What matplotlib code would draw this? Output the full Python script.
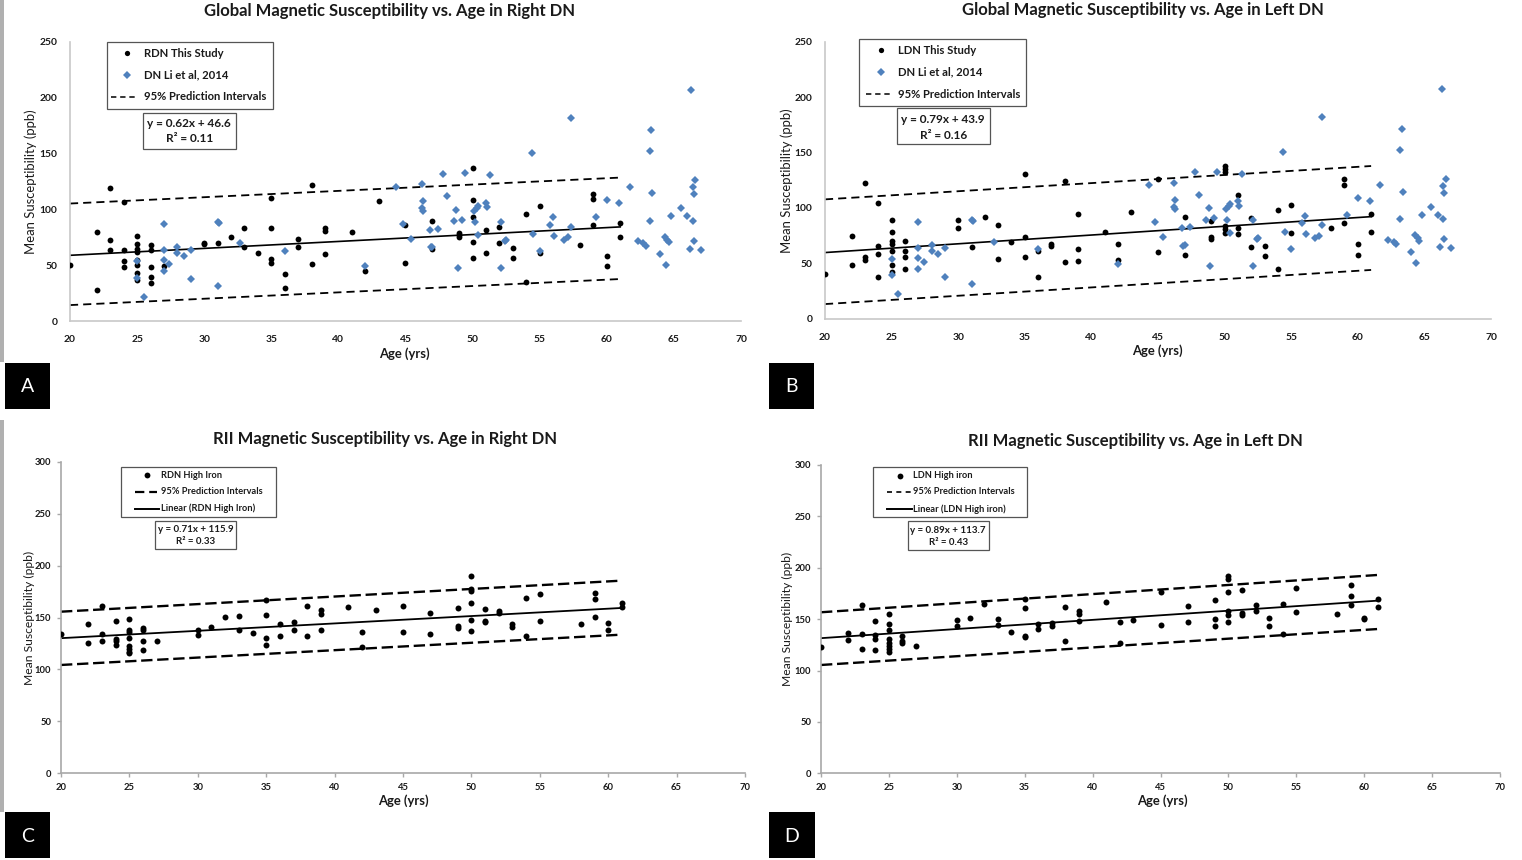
import matplotlib
matplotlib.use('Agg')
import matplotlib.pyplot as plt
from matplotlib.patches import Rectangle

plt.rcParams['font.family'] = ['Lato', 'DejaVu Sans']

# ---------------- DATA ----------------
# Li et al, 2014 reference data (shared by panels A and B)
li_age = [25, 25, 25.5, 27, 27, 27, 27, 27.4, 28, 28, 28.5, 29, 29, 31, 31.1, 31, 32.7, 36, 42,
          44.3, 44.8, 45.4, 46.2, 46.3, 46.2, 46.3, 46.8, 46.9, 47.0, 47.4, 47.8, 48.1, 48.6, 48.8,
          49.2, 48.9, 49.4, 50.1, 50.3, 50.4, 50.2, 50.4, 51.0, 51.1, 51.3, 52.1, 52.1, 52.4, 52.5,
          54.4, 54.5, 55.0, 55.8, 56.0, 56.1, 56.8, 57.1, 57.3, 57.3, 59.2, 60.0, 60.9, 61.7,
          62.3, 62.7, 62.9, 63.2, 63.3, 63.4, 63.2, 64.0, 64.3, 64.5, 64.6, 64.4, 64.8, 65.5,
          66.0, 66.4, 66.3, 66.6, 66.4, 66.5, 66.5, 66.2, 67.0]
li_sus = [54, 39, 22, 87, 64, 55, 45, 51, 66.6, 61, 58, 64, 38, 89, 88, 31.5, 69.6, 63, 49,
          120.5, 87, 74, 122.5, 107.4, 101, 99, 82, 66, 66.5, 82.4, 132, 112, 89.5, 99.6,
          91, 48, 132.4, 99, 101.4, 103.5, 89, 77, 106, 102, 131, 89, 48, 71.6, 73,
          150.5, 78.5, 63, 86, 93, 76.4, 73, 75, 181.7, 84.5, 93.6, 108.6, 106, 120.5,
          71.4, 69.6, 67, 152, 171, 114.5, 90, 60, 75.6, 73, 70.5, 50, 94, 101,
          94, 90, 207, 126.4, 120, 113.6, 72, 64.5, 63.4]

# Panel A: RDN This Study
rdn_age = [20, 22, 22, 23, 23, 23, 24, 24, 24, 24, 25, 25, 25, 25, 25, 25, 25, 25,
           26, 26, 26, 26, 26, 27, 30, 30, 31, 32, 33, 33, 34, 35, 35, 35, 35, 36, 36,
           37, 37, 38, 38, 39, 39, 39, 41, 42, 43,
           45, 45, 47, 47, 49, 49, 49, 50, 50, 50, 50, 50, 51, 51, 52, 52, 53, 53, 54, 54,
           55, 55, 58, 59, 59, 59, 60, 60, 61, 61]
rdn_sus = [50, 79.7, 28, 119, 73, 64, 107, 64, 54, 48.5, 76, 69, 65, 62, 55, 50, 43, 37,
           68, 64, 48.5, 40, 34, 49, 70, 69, 70, 75, 83.5, 66, 61, 110.6, 83.5, 56, 52, 42, 30,
           74, 66.5, 122, 51, 83.5, 80.5, 60, 79.7, 45, 108,
           86, 52, 89.5, 64.5, 79, 77, 75, 137, 108.6, 93, 71, 56.5, 82, 60.7, 84.5, 70, 65.7, 57,
           96, 35, 103, 61, 68, 113.6, 109.5, 85.7, 58.5, 49, 87.5, 75.6]
fit_a = [20, 61]
trend_a = [59.0, 84.4]
upper_a = [105.3, 128.5]
lower_a = [14.5, 37.8]

# Panel B: LDN This Study
ldn_age = [20, 22, 22, 23, 23, 23, 24, 24, 24, 24, 25, 25, 25, 25, 25, 25, 25,
           26, 26, 26, 26, 30, 30, 31, 32, 33, 33, 34, 35, 35, 35, 36, 36, 37, 37,
           38, 38, 39, 39, 39, 41, 42, 42, 43,
           45, 45, 47, 47, 49, 49, 49, 50, 50, 50, 50, 50, 50, 51, 51, 51, 52, 52, 53, 53,
           54, 54, 55, 55, 58, 59, 59, 59, 60, 60, 61, 61]
ldn_sus = [40.6, 75, 48.4, 122.7, 56, 53, 104, 66, 58, 38, 88.7, 78.5, 70, 67.7, 61, 48.4, 42,
           70, 61, 55.7, 45, 88.7, 82, 65, 91.5, 85, 54, 69.5, 130.6, 73.4, 56, 61.4, 37.3, 67.4, 65.6,
           124.5, 51, 94.8, 63, 52.3, 78, 67.7, 53, 96.6,
           126, 60, 91.5, 57.8, 88, 73.4, 71.6, 138, 135, 132, 84, 81, 77.6, 112, 82, 76.4, 91, 64.4, 66, 56.6,
           98, 44.5, 103, 77, 82, 125.8, 120.6, 86, 67, 57.8, 94.8, 78]
fit_b = [20, 61]
trend_b = [59.7, 92.1]
upper_b = [107.7, 137.8]
lower_b = [13.2, 44.0]

# Panel C: RDN High Iron
rhi_age = [20, 22, 22, 23, 23, 23, 24, 24, 24, 24, 25, 25, 25, 25, 25, 25, 25, 25,
           26, 26, 26, 26, 27, 30, 30, 31, 32, 33, 33, 34, 35, 35, 35, 35, 36, 36, 37, 37,
           38, 38, 39, 39, 39, 41, 42, 42, 43,
           45, 45, 47, 47, 49, 49, 49, 50, 50, 50, 50, 50, 50, 51, 51, 51, 52, 52, 53, 53,
           54, 54, 55, 55, 58, 59, 59, 59, 60, 60, 61, 61]
rhi_sus = [134.4, 144, 125.8, 160.7, 133.8, 127.7, 147, 129.6, 127.4, 123.5, 148.2, 138, 136, 130.6,
           122.5, 119.7, 117, 115.5, 140.2, 137.6, 127, 118.4, 127.7, 137.6, 133, 140.8, 150.8,
           151.4, 137.6, 135.4, 166.5, 152, 130, 123.8, 144, 131.9, 145.7, 137.6, 161, 132.5,
           156.9, 153, 138.3, 160.4, 136.3, 122, 156.9,
           160.7, 135.7, 154.6, 133.8, 159.5, 141.8, 140.2, 189.6, 177.4, 175.8, 164, 147.3, 137,
           158.2, 147, 145.3, 156.6, 154, 143.7, 141.2, 168.4, 131.9, 172.6, 147, 143.4,
           173.2, 167.5, 150.5, 145, 138.3, 164, 160.4]
fit_c = [20, 61]
trend_c = [130.1, 159.2]
upper_c = [155.6, 185.5]
lower_c = [104.3, 133.5]

# Panel D: LDN High iron
lhi_age = [20, 22, 22, 23, 23, 23, 24, 24, 24, 24, 25, 25, 25, 25, 25, 25, 25, 25,
           26, 26, 26, 27, 30, 30, 31, 32, 33, 33, 34, 35, 35, 35, 35, 36, 36, 37, 37,
           38, 38, 39, 39, 39, 41, 42, 42, 43,
           45, 45, 47, 47, 49, 49, 49, 50, 50, 50, 50, 50, 50, 51, 51, 51, 52, 52, 53, 53,
           54, 54, 55, 55, 58, 59, 59, 59, 60, 60, 61, 61]
lhi_sus = [123, 136.9, 129.7, 163.5, 136, 121.3, 148.2, 134.6, 130.4, 119.7, 155, 145, 139,
           130.7, 127.1, 124, 121, 118, 134, 129, 127, 123.6, 149.2, 143.7, 150.8, 164.8,
           150.5, 144, 137.5, 169.3, 160.6, 133.6, 132.7, 145.3, 140, 146.3, 143.7,
           161.9, 129.1, 157.6, 155, 148.6, 167, 147.3, 126.8, 149,
           176.8, 144.7, 163.2, 147.6, 168.7, 150.2, 143, 192, 189.4, 176, 158, 154.4, 147,
           178.4, 156.3, 154.4, 164, 158.3, 150.8, 143, 164.8, 135.6, 180, 157, 154.7,
           183.3, 172.2, 163.5, 151.5, 149.9, 169.3, 162.2]
fit_d = [20, 61]
trend_d = [131.5, 168.0]
upper_d = [156.7, 193.0]
lower_d = [105.4, 140.4]

x_ticks = [20, 25, 30, 35, 40, 45, 50, 55, 60, 65, 70]

# ---------------- FIGURE ----------------
W, H = 1522, 860
fig = plt.figure(figsize=(W / 100, H / 100), dpi=100)
BLUE = '#4F81BD'
TXT = '#1a1a1a'


def add_ax(x0, x1, ytop, ybot):
    return fig.add_axes([x0 / W, 1 - ybot / H, (x1 - x0) / W, (ybot - ytop) / H])


def style(ax, ymax, ystep, top_row):
    ax.set_xlim(20, 70)
    ax.set_ylim(0, ymax)
    ax.set_xticks(x_ticks)
    ax.set_yticks(list(range(0, ymax + 1, ystep)))
    for s in ['top', 'right']:
        ax.spines[s].set_visible(False)
    if top_row:
        col = '#C8C8C8'
        ax.tick_params(length=0, labelsize=7.4, colors=TXT)
        ax.tick_params(axis='x', pad=10)
        ax.tick_params(axis='y', pad=9)
    else:
        col = '#A8A8A8'
        ax.tick_params(length=3, width=1, color=col, labelsize=6.8, labelcolor=TXT)
        ax.tick_params(axis='x', pad=4)
        ax.tick_params(axis='y', pad=4)
    for s in ['left', 'bottom']:
        ax.spines[s].set_color(col)
        ax.spines[s].set_linewidth(1.2)
    for lab in ax.get_xticklabels() + ax.get_yticklabels():
        lab.set_fontweight('bold')
    ax.patch.set_alpha(0)


axA = add_ax(70, 741, 41.7, 321.3)
axB = add_ax(825, 1491, 41.7, 318.7)
axC = add_ax(61, 745, 461.7, 773.3)
axD = add_ax(821, 1500, 465.0, 773.3)

dash_top = (0, (4.5, 2.8))
dash_bot = (0, (4.8, 2.0))

for ax, ag, su, fx, tr, up, lo in [(axA, rdn_age, rdn_sus, fit_a, trend_a, upper_a, lower_a),
                                   (axB, ldn_age, ldn_sus, fit_b, trend_b, upper_b, lower_b)]:
    style(ax, 250, 50, True)
    ax.plot(fx, up, color='black', lw=1.3, ls=dash_top, zorder=2)
    ax.plot(fx, lo, color='black', lw=1.3, ls=dash_top, zorder=2)
    ax.plot(fx, tr, color='black', lw=1.2, zorder=2)
    ax.plot(ag, su, 'o', color='black', ms=4.2, mew=0, zorder=3)
    ax.plot(li_age, li_sus, 'D', color=BLUE, ms=4.4, mew=0, zorder=4)

for ax, ag, su, fx, tr, up, lo in [(axC, rhi_age, rhi_sus, fit_c, trend_c, upper_c, lower_c),
                                   (axD, lhi_age, lhi_sus, fit_d, trend_d, upper_d, lower_d)]:
    style(ax, 300, 50, False)
    ax.plot(fx, up, color='black', lw=1.7, ls=dash_bot, zorder=2)
    ax.plot(fx, lo, color='black', lw=1.7, ls=dash_bot, zorder=2)
    ax.plot(fx, tr, color='black', lw=1.3, zorder=2)
    ax.plot(ag, su, 'o', color='black', ms=4.3, mew=0, zorder=3)

# ---------------- OVERLAY (texts, legends, labels) ----------------
ov = fig.add_axes([0, 0, 1, 1], facecolor='none')
ov.set_xlim(0, W)
ov.set_ylim(H, 0)
ov.axis('off')

# left gray strip
ov.add_patch(Rectangle((0, 0), 4, 362, color='#B0B0B0', lw=0))
ov.add_patch(Rectangle((0, 420), 4, 392, color='#B0B0B0', lw=0))

# titles
titles = [("Global Magnetic Susceptibility vs. Age in Right DN", 390, 11),
          ("Global Magnetic Susceptibility vs. Age in Left DN", 1143, 10),
          ("RII Magnetic Susceptibility vs. Age in Right DN", 385, 439),
          ("RII Magnetic Susceptibility vs. Age in Left DN", 1135, 441)]
for t, x, y in titles:
    ov.text(x, y, t, ha='center', va='center', fontsize=12, fontweight='bold', color=TXT)

# axis labels
for x, y in [(404, 354), (1157, 351), (403, 801), (1162, 801)]:
    ov.text(x, y, "Age (yrs)", ha='center', va='center', fontsize=9.4, fontweight='bold', color=TXT)
for x, y, fs in [(31, 182, 9.4), (786.7, 181, 9.4), (29.5, 617.5, 8.7), (787, 619, 8.7)]:
    ov.text(x, y, "Mean Susceptibility (ppb)", ha='center', va='center', rotation=90,
            fontsize=fs, color=TXT)


def box(x0, y0, x1, y1):
    ov.add_patch(Rectangle((x0, y0), x1 - x0, y1 - y0, fill=False, ec='#555555', lw=0.9))


LF = 8.1
EF = 8.5
# Legend A
box(107, 42.3, 273, 109)
ov.plot([127], [53.3], 'o', color='black', ms=3.8, mew=0)
ov.plot([127], [75], 'D', color=BLUE, ms=4.0, mew=0)
ov.plot([111, 137], [96.7, 96.7], color='black', lw=1.1, ls=(0, (3.5, 2.5)))
for y, t in [(53.3, "RDN This Study"), (75, "DN Li et al, 2014"), (96.7, "95% Prediction Intervals")]:
    ov.text(144.3, y, t, ha='left', va='center', fontsize=LF, fontweight='bold', color=TXT)
box(142.7, 113.3, 236, 149)
ov.text(189.3, 123.3, "y = 0.62x + 46.6", ha='center', va='center', fontsize=EF, fontweight='bold', color=TXT)
ov.text(189.3, 139, "R\u00b2 = 0.11", ha='center', va='center', fontsize=EF, fontweight='bold', color=TXT)

# Legend B
box(859.3, 39.3, 1026.3, 106)
ov.plot([880.7], [50], 'o', color='black', ms=3.8, mew=0)
ov.plot([880.7], [72.3], 'D', color=BLUE, ms=4.0, mew=0)
ov.plot([866, 892.7], [94, 94], color='black', lw=1.1, ls=(0, (3.5, 2.5)))
for y, t in [(50, "LDN This Study"), (72.3, "DN Li et al, 2014"), (94, "95% Prediction Intervals")]:
    ov.text(897.7, y, t, ha='left', va='center', fontsize=LF, fontweight='bold', color=TXT)
box(896.7, 108.3, 990, 144.3)
ov.text(943.3, 119.5, "y = 0.79x + 43.9", ha='center', va='center', fontsize=EF, fontweight='bold', color=TXT)
ov.text(943.3, 135.5, "R\u00b2 = 0.16", ha='center', va='center', fontsize=EF, fontweight='bold', color=TXT)

LF2 = 6.7
EF2 = 7.0
# Legend C
box(120.7, 467.3, 276, 517.3)
ov.plot([146.7], [475], 'o', color='black', ms=4.2, mew=0)
ov.plot([135, 157.3], [492, 492], color='black', lw=1.6, ls=(0, (4.2, 2.2)))
ov.plot([135, 159.3], [508.7, 508.7], color='black', lw=1.4)
for y, t in [(475, "RDN High Iron"), (492, "95% Prediction Intervals"), (508.7, "Linear (RDN High Iron)")]:
    ov.text(161, y, t, ha='left', va='center', fontsize=LF2, fontweight='bold', color=TXT)
box(154.7, 520.7, 236.3, 549.3)
ov.text(195.5, 529, "y = 0.71x + 115.9", ha='center', va='center', fontsize=EF2, fontweight='bold', color=TXT)
ov.text(195.5, 541.7, "R\u00b2 = 0.33", ha='center', va='center', fontsize=EF2, fontweight='bold', color=TXT)

# Legend D
box(872.7, 467.3, 1026.7, 517.3)
ov.plot([900], [476], 'o', color='black', ms=4.2, mew=0)
ov.plot([887.3, 911.7], [492, 492], color='black', lw=1.2, ls=(0, (3.0, 2.6)))
ov.plot([887.3, 911.7], [509, 509], color='black', lw=1.4)
for y, t in [(476, "LDN High iron"), (492, "95% Prediction Intervals"), (509, "Linear (LDN High iron)")]:
    ov.text(912.7, y, t, ha='left', va='center', fontsize=LF2, fontweight='bold', color=TXT)
box(907.7, 521.3, 988.7, 550)
ov.text(948.2, 530.7, "y = 0.89x + 113.7", ha='center', va='center', fontsize=EF2, fontweight='bold', color=TXT)
ov.text(948.2, 542.7, "R\u00b2 = 0.43", ha='center', va='center', fontsize=EF2, fontweight='bold', color=TXT)

# panel letters
for x0, y0, x1, y1, t in [(5, 363, 50, 409, "A"), (769, 363, 814, 409, "B"),
                          (5, 812, 50, 858, "C"), (769, 812, 815, 858, "D")]:
    ov.add_patch(Rectangle((x0, y0), x1 - x0, y1 - y0, color='black', lw=0))
    ov.text((x0 + x1) / 2, (y0 + y1) / 2 + 1, t, ha='center', va='center', fontsize=14,
            color='white')

fig.savefig('out.png', dpi=100)
